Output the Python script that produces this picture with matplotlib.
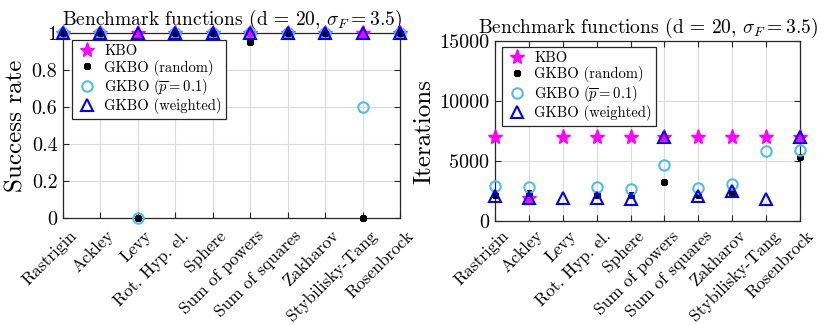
import matplotlib
matplotlib.use("Agg")
import matplotlib.pyplot as plt
import matplotlib.transforms as mtrans
import numpy as np

categories = ["Rastrigin", "Ackley", "Levy", "Rot. Hyp. el.", "Sphere",
              "Sum of powers", "Sum of squares", "Zakharov",
              "Stybilisky-Tang", "Rosenbrock"]

# Success rate
sr_kbo      = [1, 1, 1, 1, 1, 1, 1, 1, 1, 1]
sr_random   = [1, 1, 0, 1, 1, 0.95, 1, 1, 0, 1]
sr_p01      = [1, 1, 0, 1, 1, 1, 1, 1, 0.6, 1]
sr_weighted = [1, 1, 1, 1, 1, 1, 1, 1, 1, 1]

# Iterations (nan = no run succeeded)
nan = np.nan
it_kbo      = [7000, 1900, 7000, 7000, 7000, 7000, 7000, 7000, 7000, 7000]
it_random   = [2200, 2300, nan, 2200, 2150, 3250, 2200, 2300, nan, 5350]
it_p01      = [2900, 2850, nan, 2800, 2700, 4700, 2750, 3050, 5850, 5950]
it_weighted = [2100, 1950, 1950, 1900, 1800, 7000, 2100, 2500, 1850, 7000]

plt.rcParams['font.family'] = 'serif'
plt.rcParams['font.serif'] = ['cmr10', 'DejaVu Serif']
plt.rcParams['mathtext.fontset'] = 'cm'
plt.rcParams['axes.formatter.use_mathtext'] = True

fig = plt.figure(figsize=(8.26, 3.25), dpi=100)
W, H = 826, 325
ax1 = fig.add_axes([63 / W, 1 - 218 / H, (400 - 63) / W, (218 - 33) / H])
ax2 = fig.add_axes([495 / W, 1 - 221 / H, (800 - 495) / W, (221 - 41) / H])

x = np.arange(1, len(categories) + 1)
spine_c = '#262626'

def draw(ax, kbo, rnd, p01, wtd, leg_anchor, xpad):
    ax.plot(x, kbo, linestyle='none', marker='*', color='#FF00FF',
            markersize=11, label='KBO', clip_on=False, zorder=3)
    ax.plot(x, rnd, linestyle='none', marker=(8, 2, 0), color='black',
            markersize=5, mew=2.2, label='GKBO (random)', clip_on=False, zorder=4)
    ax.plot(x, p01, linestyle='none', marker='o', color='#4DBEEE',
            markerfacecolor='none', markersize=7.5, mew=1.5,
            label=r'GKBO ($\overline{p} = 0.1$)', clip_on=False, zorder=5)
    ax.plot(x, wtd, linestyle='none', marker='^', color='#0000FF',
            markerfacecolor='none', markersize=8, mew=1.5,
            label='GKBO (weighted)', clip_on=False, zorder=6)
    ax.set_xlim(1, len(categories))
    ax.set_xticks(x)
    ax.grid(True, color='#dcdcdc', linewidth=0.8)
    ax.set_axisbelow(True)
    ax.tick_params(direction='in', top=True, right=True, length=4,
                   color=spine_c)
    ax.tick_params(axis='y', labelsize=14.5, pad=4)
    ax.tick_params(axis='x', labelsize=12.5, pad=xpad)
    ax.set_xticklabels(categories, rotation=45, ha='right', va='top',
                       rotation_mode='anchor')
    offset = mtrans.ScaledTranslation(6 / 100, 0, fig.dpi_scale_trans)
    for lab in ax.get_xticklabels():
        lab.set_transform(lab.get_transform() + offset)
    for s in ax.spines.values():
        s.set_color(spine_c)
        s.set_linewidth(0.9)
    ax.set_title(r'Benchmark functions (d = 20, $\sigma_F = 3.5$)',
                 fontsize=14, pad=6)
    leg = ax.legend(loc='upper left', fontsize=10.5, fancybox=False,
                    framealpha=1, edgecolor=spine_c, borderpad=0.3,
                    labelspacing=0.1, handlelength=1.4, handletextpad=0.5,
                    borderaxespad=0, bbox_to_anchor=leg_anchor)
    leg.get_frame().set_linewidth(0.9)

draw(ax1, sr_kbo, sr_random, sr_p01, sr_weighted, (0.027, 0.962), 7)
ax1.set_ylim(0, 1)
ax1.set_yticks([0, 0.2, 0.4, 0.6, 0.8, 1])
ax1.set_yticklabels(['0', '0.2', '0.4', '0.6', '0.8', '1'])
ax1.set_ylabel('Success rate', fontsize=18, labelpad=3)

draw(ax2, it_kbo, it_random, it_p01, it_weighted, (0.023, 0.967), 5)
ax2.set_ylim(0, 15000)
ax2.set_yticks([0, 5000, 10000, 15000])
ax2.set_yticklabels(['0', '5000', '10000', '15000'])
ax2.set_ylabel('Iterations', fontsize=18, labelpad=3)

fig.savefig('out.png', dpi=100)
